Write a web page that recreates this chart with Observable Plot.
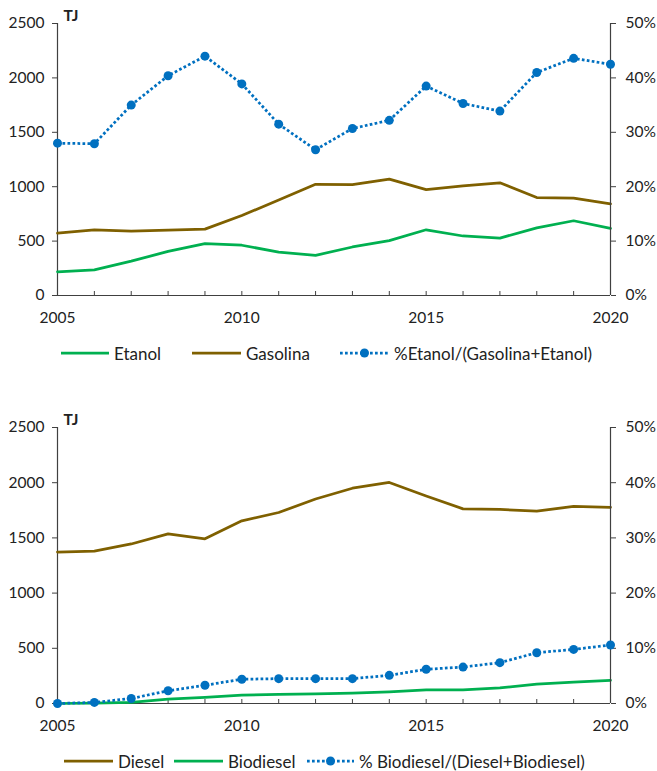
<!DOCTYPE html>
<html>
<head>
<meta charset="utf-8">
<script src="https://cdn.jsdelivr.net/npm/d3@7"></script>
<script src="https://cdn.jsdelivr.net/npm/@observablehq/plot@0.6"></script>
<style>
  body { margin: 0; background: #fff; font-family: Lato, "Open Sans", sans-serif; }
  #page { position: relative; width: 657px; height: 771px; overflow: hidden; }
  .layer { position: absolute; left: 0; }
  .layer svg { display: block; }
  .legend-item { position: absolute; display: flex; align-items: center; height: 20px;
                 font-size: 17px; color: #222; white-space: nowrap; }
  .legend-item svg { display: block; margin-right: 5px; }
</style>
</head>
<body>
<div id="page"></div>
<script>
// Annual series, 2005–2020 (energy in TJ, shares in %)
const years = [2005, 2006, 2007, 2008, 2009, 2010, 2011, 2012, 2013, 2014, 2015, 2016, 2017, 2018, 2019, 2020];

const etanol    = [218, 236, 316, 405, 476, 462, 399, 369, 446, 505, 604, 547, 528, 621, 687, 617];
const gasolina  = [573, 604, 592, 600, 610, 735, 877, 1022, 1019, 1069, 973, 1008, 1036, 900, 895, 843];
const pctEtanol = [28.0, 27.9, 35.0, 40.4, 44.0, 38.9, 31.5, 26.8, 30.7, 32.2, 38.5, 35.3, 33.9, 41.0, 43.6, 42.5];

const diesel    = [1372, 1380, 1445, 1537, 1492, 1655, 1730, 1852, 1950, 2002, 1880, 1763, 1758, 1743, 1785, 1777];
const biodiesel = [0, 3, 10, 40, 55, 76, 82, 88, 93, 105, 124, 123, 141, 176, 194, 210];
const pctBio    = [0, 0.2, 0.9, 2.3, 3.3, 4.4, 4.5, 4.5, 4.5, 5.1, 6.2, 6.6, 7.4, 9.2, 9.8, 10.6];

// Axis ticks and labels
const yearLabels = [2005, 2010, 2015, 2020];
const tjTicks = [0, 500, 1000, 1500, 2000, 2500];
const pctTicks = [0, 10, 20, 30, 40, 50];
const unitLabel = "TJ";

const legendTop = ["Etanol", "Gasolina", "%Etanol/(Gasolina+Etanol)"];
const legendBottom = ["Diesel", "Biodiesel", "% Biodiesel/(Diesel+Biodiesel)"];

// Colours
const GREEN = "#00b050";
const BROWN = "#7f6000";
const BLUE = "#0070c0";
const AXIS = "#404040";
const DOTS = "2.7,2.3";

const rowsTop = years.map((year, i) => ({year, etanol: etanol[i], gasolina: gasolina[i], pct: pctEtanol[i]}));
const rowsBottom = years.map((year, i) => ({year, diesel: diesel[i], biodiesel: biodiesel[i], pct: pctBio[i]}));

const page = document.getElementById("page");
const W = 657, ML = 57, MR = 47;

function panel({top, height, mt, mb, rows, series}) {
  const common = {
    width: W, height,
    marginLeft: ML, marginRight: MR, marginTop: mt, marginBottom: mb,
    style: {fontFamily: "Lato, 'Open Sans', sans-serif", fontSize: "15.5px", color: "#222",
            background: "transparent", overflow: "visible"}
  };

  // Energy lines on the left (TJ) axis, with the shared year axis
  const left = Plot.plot({
    ...common,
    x: {type: "linear", domain: [2005, 2020]},
    y: {domain: [0, 2500]},
    marks: [
      Plot.axisY({ticks: tjTicks, tickSize: 5, tickPadding: 8, stroke: AXIS, label: null, tickFormat: d => String(d)}),
      Plot.axisX({ticks: years, tickSize: 4, dy: -4, stroke: AXIS, tickFormat: () => "", label: null}),
      Plot.axisX({ticks: yearLabels, tickSize: 0, tickPadding: 16, tickFormat: d => String(d), label: null}),
      Plot.ruleX([2005], {stroke: AXIS, strokeWidth: 1.2}),
      Plot.ruleY([0], {stroke: AXIS, strokeWidth: 1.2}),
      Plot.text([unitLabel], {frameAnchor: "top-left", textAnchor: "start", lineAnchor: "bottom",
                              dx: 6, dy: -3, fontWeight: "bold", fontSize: 15.5}),
      ...series.map(s => Plot.line(rows, {x: "year", y: s.key, stroke: s.color, strokeWidth: 2.75}))
    ]
  });

  // Share line on the right (%) axis
  const right = Plot.plot({
    ...common,
    x: {type: "linear", domain: [2005, 2020], axis: null},
    y: {domain: [0, 50]},
    marks: [
      Plot.axisY({anchor: "right", ticks: pctTicks, tickSize: 5, tickPadding: 10, stroke: AXIS,
                  tickFormat: d => d + "%", label: null}),
      Plot.ruleX([2020], {stroke: AXIS, strokeWidth: 1.2}),
      Plot.line(rows, {x: "year", y: "pct", stroke: BLUE, strokeWidth: 2.75,
                       strokeDasharray: DOTS, strokeLinecap: "butt"}),
      Plot.dot(rows, {x: "year", y: "pct", r: 4.5, fill: BLUE, stroke: "none"})
    ]
  });

  for (const svg of [left, right]) {
    const wrap = document.createElement("div");
    wrap.className = "layer";
    wrap.style.top = top + "px";
    wrap.appendChild(svg);
    page.appendChild(wrap);
  }
}

function swatch(color, dotted, w) {
  const ns = "http://www.w3.org/2000/svg";
  const svg = document.createElementNS(ns, "svg");
  svg.setAttribute("width", w);
  svg.setAttribute("height", 12);
  const line = document.createElementNS(ns, "line");
  line.setAttribute("x1", 0); line.setAttribute("x2", w);
  line.setAttribute("y1", 6); line.setAttribute("y2", 6);
  line.setAttribute("stroke", color);
  line.setAttribute("stroke-width", 2.75);
  if (dotted) line.setAttribute("stroke-dasharray", DOTS);
  svg.appendChild(line);
  if (dotted) {
    const c = document.createElementNS(ns, "circle");
    c.setAttribute("cx", w / 2); c.setAttribute("cy", 6); c.setAttribute("r", 4.5);
    c.setAttribute("fill", color);
    svg.appendChild(c);
  }
  return svg;
}

function legend(items, centerY) {
  for (const it of items) {
    const div = document.createElement("div");
    div.className = "legend-item";
    div.style.left = it.x + "px";
    div.style.top = (centerY - 10) + "px";
    div.appendChild(swatch(it.color, it.dotted, it.w));
    const span = document.createElement("span");
    span.textContent = it.label;
    div.appendChild(span);
    page.appendChild(div);
  }
}

panel({top: 0, height: 330, mt: 23, mb: 35, rows: rowsTop,
       series: [{key: "etanol", color: GREEN}, {key: "gasolina", color: BROWN}]});
legend([
  {label: legendTop[0], color: GREEN, x: 61, w: 48},
  {label: legendTop[1], color: BROWN, x: 192, w: 49},
  {label: legendTop[2], color: BLUE, x: 340, w: 49, dotted: true}
], 353);

panel({top: 400, height: 338, mt: 27, mb: 35, rows: rowsBottom,
       series: [{key: "diesel", color: BROWN}, {key: "biodiesel", color: GREEN}]});
legend([
  {label: legendBottom[0], color: BROWN, x: 64, w: 49},
  {label: legendBottom[1], color: GREEN, x: 174, w: 49},
  {label: legendBottom[2], color: BLUE, x: 307, w: 47, dotted: true}
], 761);
</script>
</body>
</html>
